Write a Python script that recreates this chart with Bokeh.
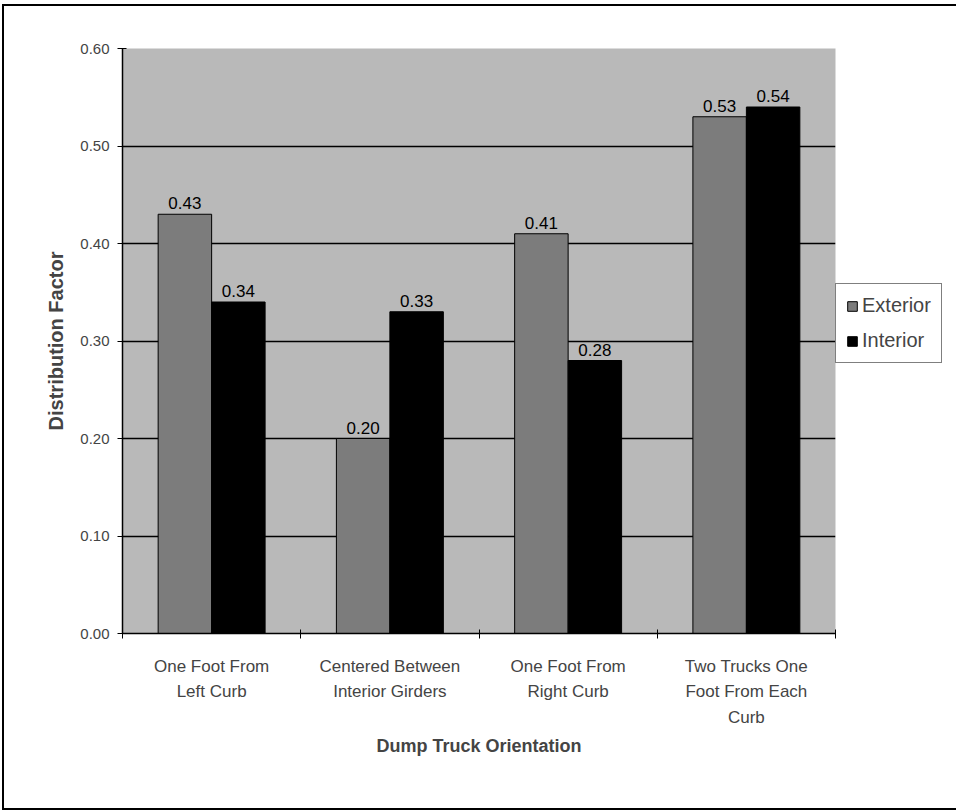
from bokeh.plotting import figure
from bokeh.models import (FixedTicker, NumeralTickFormatter, Legend, LegendItem,
                          ColumnDataSource, Range1d, LabelSet)
from bokeh.core.properties import value
from bokeh.embed import file_html
from bokeh.resources import INLINE

categories = ["One Foot From\nLeft Curb", "Centered Between\nInterior Girders",
              "One Foot From\nRight Curb", "Two Trucks One\nFoot From Each\nCurb"]
exterior = [0.43, 0.20, 0.41, 0.53]
interior = [0.34, 0.33, 0.28, 0.54]
series_names = ["Exterior", "Interior"]
y_ticks = [0.0, 0.1, 0.2, 0.3, 0.4, 0.5, 0.6]

centers = [i + 0.5 for i in range(len(categories))]
bounds = list(range(len(categories) + 1))
bw = 0.3

src_e = ColumnDataSource(dict(x=[c - bw / 2 for c in centers], top=exterior,
                              lab=["%.2f" % v for v in exterior]))
src_i = ColumnDataSource(dict(x=[c + bw / 2 for c in centers], top=interior,
                              lab=["%.2f" % v for v in interior]))

FONT = "Liberation Sans"

p = figure(frame_width=713, frame_height=585, output_backend="svg", toolbar_location=None,
           x_range=Range1d(0, len(categories)), y_range=Range1d(0, 0.6),
           min_border_left=118, min_border_top=42, min_border_right=119,
           min_border_bottom=175)
p.styles = {"border": "2px solid black", "margin-left": "2px", "margin-top": "4px"}
p.background_fill_color = "#b9b9b9"
p.border_fill_color = "white"
p.outline_line_color = None

p.xgrid.visible = False
p.ygrid.grid_line_color = "black"
p.ygrid.grid_line_width = 1.5
p.ygrid.ticker = FixedTicker(ticks=y_ticks)

r_e = p.vbar(x="x", top="top", width=bw, source=src_e, fill_color="#7c7c7c",
             line_color="black", line_width=1)
r_i = p.vbar(x="x", top="top", width=bw, source=src_i, fill_color="black",
             line_color="black", line_width=1)

for src in (src_e, src_i):
    p.add_layout(LabelSet(x="x", y="top", text="lab", source=src, text_align="center",
                          text_baseline="bottom", y_offset=5, text_font=value(FONT),
                          text_font_size=value("17px"), text_color="black"))

# axes
p.xaxis.ticker = FixedTicker(ticks=centers, minor_ticks=bounds)
p.xaxis.major_label_overrides = {c: lab for c, lab in zip(centers, categories)}
p.xaxis.major_tick_in = 0
p.xaxis.major_tick_out = 0
p.xaxis.minor_tick_in = 4
p.xaxis.minor_tick_out = 5
p.xaxis.minor_tick_line_color = "black"
p.xaxis.axis_line_color = "black"
p.xaxis.axis_line_width = 1.5
p.xaxis.major_label_standoff = 18
p.xaxis.major_label_text_font = FONT
p.xaxis.major_label_text_font_size = "17px"
p.xaxis.major_label_text_line_height = 1.35
p.xaxis.axis_label = "Dump Truck Orientation"
p.xaxis.axis_label_text_font = FONT
p.xaxis.axis_label_text_font_size = "18px"
p.xaxis.axis_label_text_font_style = "bold"
p.xaxis.axis_label_standoff = 6

p.yaxis.ticker = FixedTicker(ticks=y_ticks, minor_ticks=[])
p.yaxis.formatter = NumeralTickFormatter(format="0.00")
p.yaxis.major_tick_in = 4
p.yaxis.major_tick_out = 5
p.yaxis.axis_line_color = "black"
p.yaxis.axis_line_width = 1.5
p.yaxis.major_label_text_font = FONT
p.yaxis.major_label_text_font_size = "15px"
p.yaxis.major_label_standoff = 8
p.yaxis.axis_label = "Distribution Factor"
p.yaxis.axis_label_text_font = FONT
p.yaxis.axis_label_text_font_size = "20px"
p.yaxis.axis_label_text_font_style = "bold"
p.yaxis.axis_label_standoff = 10

legend = Legend(items=[LegendItem(label=series_names[0], renderers=[r_e]),
                       LegendItem(label=series_names[1], renderers=[r_i])],
                location=(0, 270), border_line_color="black", border_line_width=1.5,
                label_text_font=FONT, label_text_font_size="20px",
                glyph_width=12, glyph_height=12, padding=10, spacing=12,
                label_standoff=4, margin=0, background_fill_alpha=1)
p.add_layout(legend, "right")

open("out.html", "w").write(file_html(p, INLINE))
